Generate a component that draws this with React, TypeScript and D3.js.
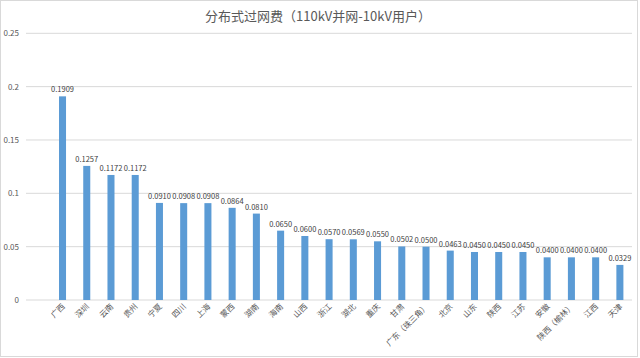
import React from "react";
import * as d3 from "d3";

const categories = ["广西","深圳","云南","贵州","宁夏","四川","上海","蒙西","湖南","海南","山西","浙江","湖北","重庆","甘肃","广东（珠三角）","北京","山东","陕西","江苏","安徽","陕西（榆林）","江西","天津"];
const values = [0.1909,0.1257,0.1172,0.1172,0.0910,0.0908,0.0908,0.0864,0.0810,0.0650,0.0600,0.0570,0.0569,0.0550,0.0502,0.0500,0.0463,0.0450,0.0450,0.0450,0.0400,0.0400,0.0400,0.0329];
const yTicks = [0, 0.05, 0.1, 0.15, 0.2, 0.25];
const title = "分布式过网费（110kV并网-10kV用户）";

export default function App() {
  const W = 640, H = 358;
  const gridLeft = 26, right = 632;
  const x = d3.scaleBand<string>().domain(categories).range([50.4, right]).paddingInner(0.71).paddingOuter(0.355);
  const y = d3.scaleLinear().domain([0, 0.25]).range([300, 33.3]);
  const font = "'Noto Sans CJK SC', 'Noto Sans', sans-serif";
  return (
    <svg width={W} height={H} style={{ position: "absolute", left: 0, top: 0, background: "#fff" }} fontFamily={font}>
      <rect x={0.5} y={0.5} width={637} height={356} fill="#fff" stroke="#d9d9d9" />
      <text x={318} y={21} textAnchor="middle" fontSize={13} fill="#595959">{title}</text>
      {yTicks.map((t) => (
        <g key={t}>
          <line x1={gridLeft} x2={right} y1={y(t)} y2={y(t)} stroke="#d9d9d9" strokeWidth={1} />
          <text x={19} y={y(t) + 3} textAnchor="end" fontSize={8} fill="#595959">{d3.format("")(t)}</text>
        </g>
      ))}
      {categories.map((c, i) => {
        const cx = (x(c) as number) + x.bandwidth() / 2;
        return (
          <g key={c}>
            <rect x={x(c)} y={y(values[i])} width={x.bandwidth()} height={y(0) - y(values[i])} fill="#5b9bd5" />
            <text x={cx} y={y(values[i]) - 4} textAnchor="middle" fontSize={7.5} fill="#404040">{values[i].toFixed(4)}</text>
            <text transform={`translate(${cx + 3},${307}) rotate(-45)`} textAnchor="end" fontSize={8} fill="#595959">{c}</text>
          </g>
        );
      })}
    </svg>
  );
}
